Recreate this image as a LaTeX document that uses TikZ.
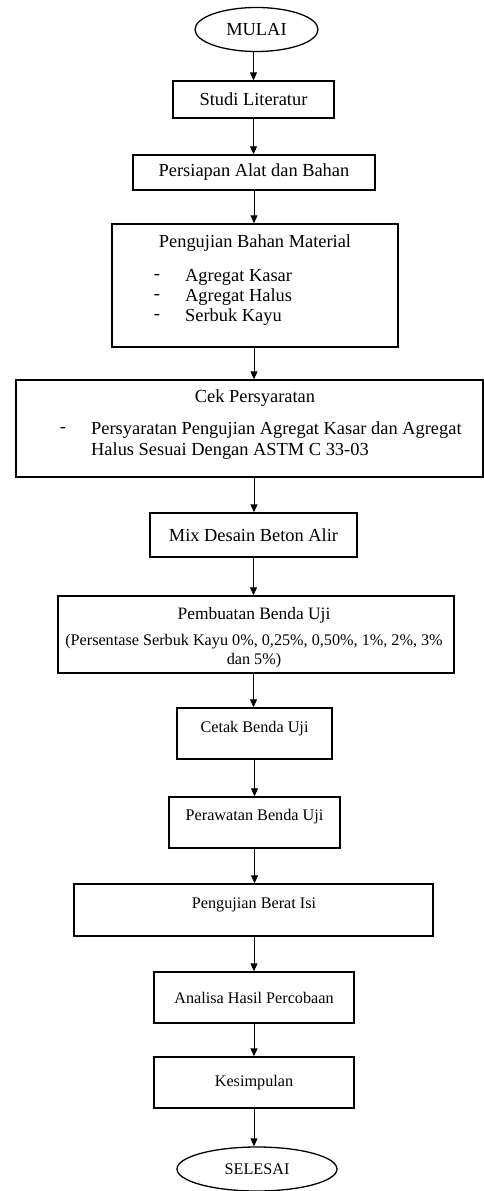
\documentclass[tikz,border=0pt]{standalone}
\usepackage{fontspec}
\setmainfont{Liberation Serif}
\usetikzlibrary{arrows.meta,shapes.geometric}
\newcommand{\bigtxt}{\fontsize{18.4}{20}\selectfont}
\newcommand{\smalltxt}{\fontsize{16.2}{19}\selectfont}
\begin{document}
\begin{tikzpicture}[x=1pt,y=-1pt,
    box/.style={draw,line width=1.4pt,inner sep=0pt,font=\bigtxt},
    sbox/.style={box,font=\smalltxt},
    oval/.style={draw,ellipse,line width=1.3pt,inner sep=0pt},
    flow/.style={line width=0.9pt,-{Triangle[length=8pt,width=7pt]}},
    txt/.style={inner sep=0pt,font=\bigtxt}]
            \useasboundingbox (0,0) rectangle (484,1191);

            \node[oval,minimum width=123,minimum height=44,font=\bigtxt] (mulai) at (256.5,29.5) {MULAI};
            \node[box,minimum width=161,minimum height=37] (studi) at (253.5,99.5) {Studi Literatur};
            \node[box,minimum width=242,minimum height=35] (siap) at (254,172.5) {Persiapan Alat dan Bahan};
            \node[box,minimum width=286,minimum height=123] (bahan) at (255,285.5) {};
            \node[box,minimum width=467,minimum height=97] (cek) at (249.5,428.5) {};
            \node[box,minimum width=207,minimum height=44] (mix) at (253.5,535) {Mix Desain Beton Alir};
            \node[box,minimum width=396,minimum height=77] (buat) at (256,634.5) {};
            \node[sbox,minimum width=155,minimum height=51] (cetak) at (254.5,733.5) {};
            \node[sbox,minimum width=171,minimum height=51] (rawat) at (254.5,822.5) {};
            \node[sbox,minimum width=359,minimum height=52] (berat) at (253.5,910) {};
            \node[sbox,minimum width=200,minimum height=51] (analisa) at (254,997.5) {Analisa Hasil Percobaan};
            \node[sbox,minimum width=200,minimum height=51] (simpul) at (254,1082.5) {Kesimpulan};
            \node[oval,minimum width=160,minimum height=44,font=\smalltxt] (selesai) at (257,1169) {SELESAI};

            % isi kotak
            \node[txt] (bahanT) at (255,243) {Pengujian Bahan Material};
            \node[txt] (d1) at (157,277) {-};
            \node[txt] (d2) at (157,297) {-};
            \node[txt] (d3) at (157,317) {-};
            \node[txt,anchor=west] (kasar) at (185,277) {Agregat Kasar};
            \node[txt,anchor=west] (halus) at (185,297) {Agregat Halus};
            \node[txt,anchor=west] (serbuk) at (185,317) {Serbuk Kayu};

            \node[txt] (cekT) at (255,398) {Cek Persyaratan};
            \node[txt] (d4) at (63,430) {-};
            \node[txt,anchor=west] (syarat1) at (91,430) {Persyaratan Pengujian Agregat Kasar dan Agregat};
            \node[txt,anchor=west] (syarat2) at (91,451) {Halus Sesuai Dengan ASTM C 33-03};

            \node[txt,font=\fontsize{17.4}{19}\selectfont] (buatT) at (254,615) {Pembuatan Benda Uji};
            \node[txt,font=\smalltxt,align=center] (persen) at (254,651) {(Persentase Serbuk Kayu 0\%, 0,25\%, 0,50\%, 1\%, 2\%, 3\%\\dan 5\%)};

            \node[txt,font=\smalltxt] (cetakT) at (254.5,729) {Cetak Benda Uji};
            \node[txt,font=\smalltxt] (rawatT) at (254.5,817) {Perawatan Benda Uji};
            \node[txt,font=\smalltxt] (beratT) at (254,905) {Pengujian Berat Isi};

            % panah
            \draw[flow] (mulai.south -| studi) -- (studi.north);
            \draw[flow] (studi.south) -- (studi.south |- siap.north);
            \draw[flow] (siap.south) -- (siap.south |- bahan.north);
            \draw[flow] (siap.south |- bahan.south) -- (siap.south |- cek.north);
            \draw[flow] (siap.south |- cek.south) -- (siap.south |- mix.north);
            \draw[flow] (mix.south) -- (mix.south |- buat.north);
            \draw[flow] (mix.south |- buat.south) -- (mix.south |- cetak.north);
            \draw[flow] (cetak.south) -- (cetak.south |- rawat.north);
            \draw[flow] (rawat.south) -- (rawat.south |- berat.north);
            \draw[flow] (analisa.north |- berat.south) -- (analisa.north);
            \draw[flow] (analisa.south) -- (simpul.north);
            \draw[flow] (simpul.south) -- (simpul.south |- selesai.north);
\end{tikzpicture}
\end{document}
